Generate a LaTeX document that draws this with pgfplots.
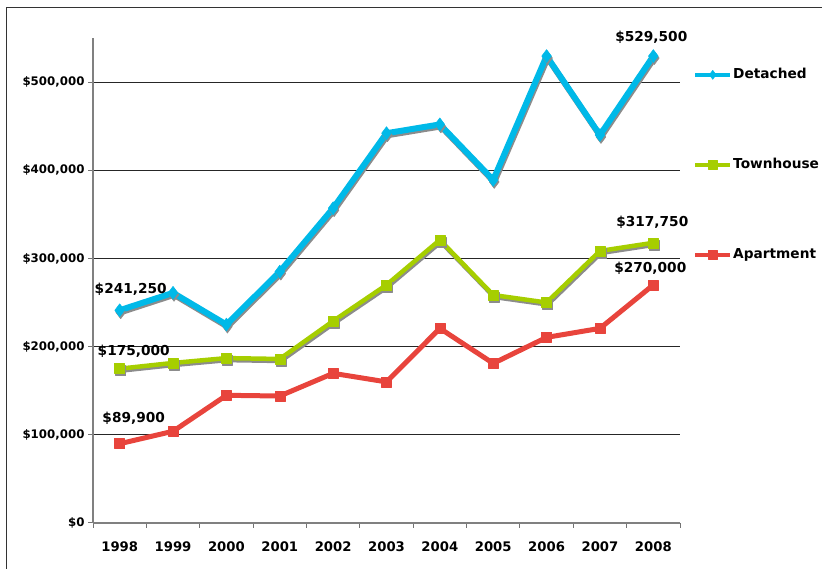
\documentclass[border=0pt]{standalone}
\usepackage{pgfplots}
\pgfplotsset{compat=1.18}
\usepackage{fontspec}
\setmainfont{DejaVu Sans}
\definecolor{cdet}{RGB}{0,185,232}
\definecolor{ctown}{RGB}{166,206,0}
\definecolor{capt}{RGB}{232,68,60}
\definecolor{cshadow}{RGB}{140,140,140}
\begin{document}
\begin{tikzpicture}
\useasboundingbox (0pt,0pt) rectangle (822pt,569pt);
\draw[black!80, line width=1pt] (6pt,0pt) -- (6pt,561pt) -- (822pt,561pt);
\begin{axis}[
  at={(93pt,46pt)}, anchor=south west,
  scale only axis, width=587pt, height=485pt,
  xmin=-0.5, xmax=10.5, ymin=0, ymax=550000,
  scaled y ticks=false,
  axis x line*=bottom, axis y line*=left,
  axis line style={black!50, line width=1.3pt},
  xtick={0,...,10},
  xticklabels={1998,1999,2000,2001,2002,2003,2004,2005,2006,2007,2008},
  minor xtick={-0.5,0.5,...,10.5},
  major x tick style={draw=none},
  minor x tick style={black!55, line width=1pt},
  tick align=outside,
  major tick length=5pt, minor tick length=5pt,
  ytick={0,100000,200000,300000,400000,500000},
  yticklabels={{\$0},{\$100,000},{\$200,000},{\$300,000},{\$400,000},{\$500,000}},
  y tick style={black!55, line width=1pt},
  ymajorgrids, major grid style={black!85, line width=0.8pt},
  xticklabel style={font=\bfseries\fontsize{13.2}{15}\selectfont, yshift=-10pt},
  yticklabel style={font=\bfseries\fontsize{11.8}{14}\selectfont},
  legend cell align=left,
  legend style={at={(1.0222,0.938)}, anchor=north west, draw=none, fill=none,
    inner sep=0pt, row sep=77pt, column sep=1pt,
    font=\bfseries\fontsize{13.7}{16}\selectfont,
    nodes={inner sep=0pt, text height=10pt, text depth=3pt}},
  legend image code/.code={
    \draw[mark repeat=2, mark phase=2, #1, line width=4pt, mark size=4.5pt]
      plot coordinates {(0pt,0pt) (17.5pt,0pt) (35pt,0pt)};
  },
  clip=false,
]
% Detached
\addplot[cshadow, line width=6pt, line join=round, mark=diamond*, mark size=6.5pt, mark options={line width=0.5pt}, xshift=1pt, yshift=-2pt, forget plot]
  coordinates {(0,241250) (1,261000) (2,225000) (3,285000) (4,357000) (5,442000) (6,452000) (7,389000) (8,529500) (9,440000) (10,529500)};
\addplot[cdet, line width=6pt, line join=round, mark=diamond*, mark size=6.5pt, mark options={line width=0.5pt}]
  coordinates {(0,241250) (1,261000) (2,225000) (3,285000) (4,357000) (5,442000) (6,452000) (7,389000) (8,529500) (9,440000) (10,529500)};
\addlegendentry{Detached}
% Townhouse
\addplot[cshadow, line width=4.5pt, line join=round, mark=square*, mark size=5pt, mark options={line width=0.5pt}, xshift=1pt, yshift=-2pt, forget plot]
  coordinates {(0,175000) (1,181500) (2,187000) (3,186000) (4,229000) (5,270000) (6,321000) (7,258500) (8,250000) (9,308500) (10,317750)};
\addplot[ctown, line width=4.5pt, line join=round, mark=square*, mark size=5pt, mark options={line width=0.5pt}]
  coordinates {(0,175000) (1,181500) (2,187000) (3,186000) (4,229000) (5,270000) (6,321000) (7,258500) (8,250000) (9,308500) (10,317750)};
\addlegendentry{Townhouse}
% Apartment
\addplot[capt, line width=5pt, line join=round, mark=square*, mark size=5pt, mark options={line width=0.5pt}]
  coordinates {(0,89900) (1,104000) (2,144800) (3,144000) (4,169700) (5,160000) (6,220700) (7,181000) (8,210500) (9,220700) (10,270000)};
\addlegendentry{Apartment}
% data labels
\node[font=\bfseries\fontsize{13.7}{16}\selectfont, xshift=11pt, yshift=21pt] at (axis cs:0,241250) {\$241,250};
\node[font=\bfseries\fontsize{13.7}{16}\selectfont, xshift=14pt, yshift=17pt] at (axis cs:0,175000) {\$175,000};
\node[font=\bfseries\fontsize{13.7}{16}\selectfont, xshift=14pt, yshift=25pt] at (axis cs:0,89900) {\$89,900};
\node[font=\bfseries\fontsize{13.7}{16}\selectfont, xshift=-2pt, yshift=19pt] at (axis cs:10,529500) {\$529,500};
\node[font=\bfseries\fontsize{13.7}{16}\selectfont, xshift=-1pt, yshift=20pt] at (axis cs:10,317750) {\$317,750};
\node[font=\bfseries\fontsize{13.7}{16}\selectfont, xshift=-3pt, yshift=17pt] at (axis cs:10,270000) {\$270,000};
\end{axis}
\end{tikzpicture}
\end{document}
